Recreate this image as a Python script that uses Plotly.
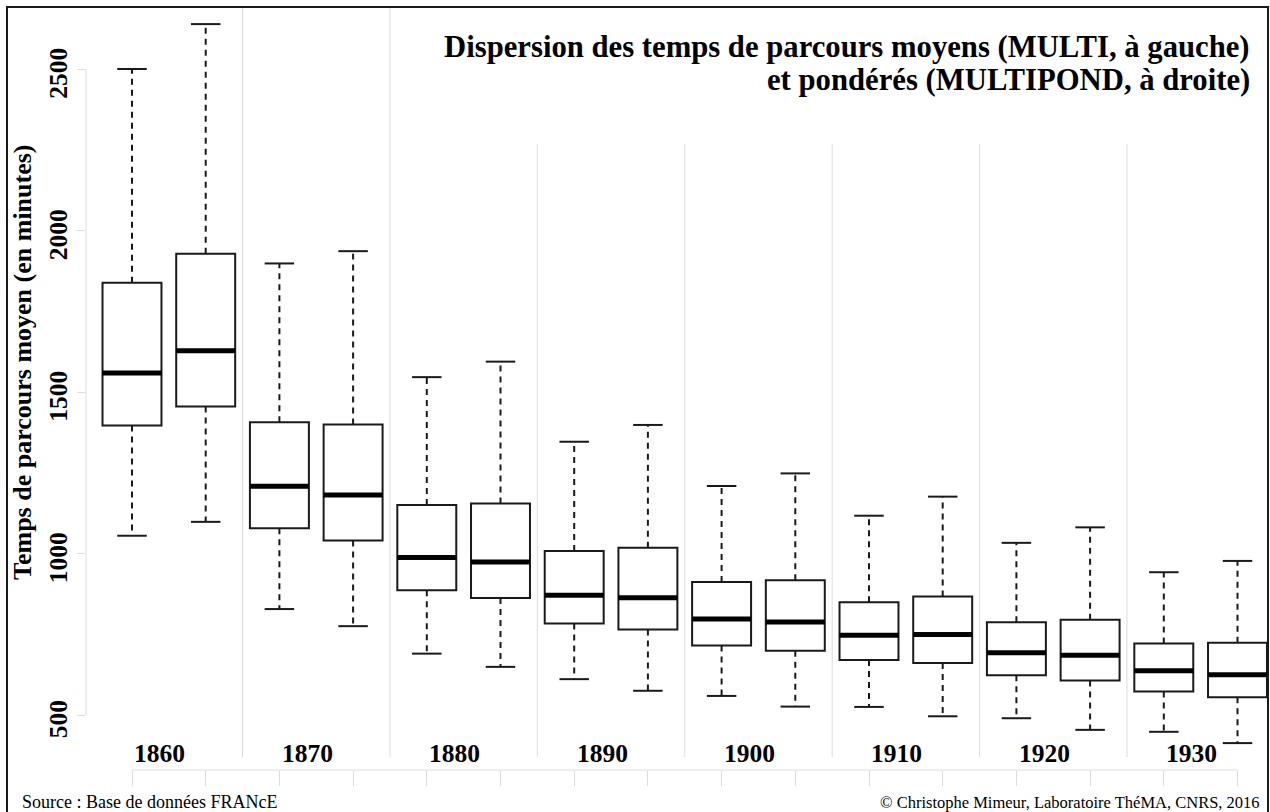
import plotly.graph_objects as go

# Decades, two boxes per decade: MULTI (left) and MULTIPOND (right)
decades = ["1860", "1870", "1880", "1890", "1900", "1910", "1920", "1930"]
series = ["MULTI", "MULTIPOND"]

# Five-number summaries (minutes), box order: 1860 MULTI, 1860 MULTIPOND, 1870 MULTI, ...
upper_whisker = [2500, 2639, 1898, 1936, 1546, 1594, 1346, 1398, 1209, 1248, 1117, 1176, 1033, 1081, 942, 977]
q3 = [1838, 1928, 1406, 1399, 1150, 1155, 1008, 1018, 912, 917, 849, 867, 787, 795, 721, 724]
median = [1559, 1628, 1208, 1181, 988, 974, 871, 863, 797, 788, 747, 749, 693, 685, 637, 625]
q1 = [1396, 1455, 1078, 1040, 886, 862, 783, 765, 715, 699, 670, 661, 623, 607, 573, 555]
lower_whisker = [1055, 1098, 828, 775, 690, 649, 611, 575, 559, 526, 525, 496, 490, 454, 448, 413]

y_ticks = [500, 1000, 1500, 2000, 2500]

SERIF = "Liberation Serif"
AXIS_GREY = "#dcdcdc"
INK = "#1a1a1a"
BOX_W = 0.8
CAP_W = 0.4

n = len(median)
pos = list(range(n))
labels = [f"{d} {s}" for d in decades for s in series]

fig = go.Figure()

# Whiskers (dashed) from box edges to the extremes
wx, wy = [], []
for i in pos:
    wx += [i, i, None, i, i, None]
    wy += [q3[i], upper_whisker[i], None, q1[i], lower_whisker[i], None]
fig.add_trace(go.Scatter(x=wx, y=wy, mode="lines", hoverinfo="skip",
                         line=dict(color=INK, width=2, dash="6px,5px")))

# Whisker caps
cx, cy = [], []
for i in pos:
    cx += [i - CAP_W / 2, i + CAP_W / 2, None, i - CAP_W / 2, i + CAP_W / 2, None]
    cy += [upper_whisker[i], upper_whisker[i], None, lower_whisker[i], lower_whisker[i], None]
fig.add_trace(go.Scatter(x=cx, y=cy, mode="lines", hoverinfo="skip",
                         line=dict(color=INK, width=2)))

# Interquartile boxes
fig.add_trace(go.Bar(x=pos, y=[a - b for a, b in zip(q3, q1)], base=q1, width=BOX_W,
                     customdata=labels, hovertemplate="%{customdata}<extra></extra>",
                     marker=dict(color="white", line=dict(color=INK, width=2))))

# Medians
mx, my = [], []
for i in pos:
    mx += [i - BOX_W / 2, i + BOX_W / 2, None]
    my += [median[i], median[i], None]
fig.add_trace(go.Scatter(x=mx, y=my, mode="lines", hoverinfo="skip",
                         line=dict(color="black", width=5)))

# Pixel layout helpers
W, H = 1270, 812
L, R, T, B = 86, 2, 7, 42
pw, ph = W - L - R, H - T - B


def px(xp):
    return (xp - L) / pw


def py(yp):
    return (H - B - yp) / ph


shapes = []
# y axis line spanning the tick range
shapes.append(dict(type="line", xref="paper", yref="y", x0=0, x1=0,
                   y0=y_ticks[0], y1=y_ticks[-1], line=dict(color=AXIS_GREY, width=1)))
# x axis line spanning first to last box
shapes.append(dict(type="line", xref="x", yref="paper", x0=pos[0], x1=pos[-1],
                   y0=0, y1=0, line=dict(color=AXIS_GREY, width=1)))
# decade separators
for k in range(len(decades) - 1):
    xs = 2 * k + 1.5
    top = 1 if k < 2 else py(144)
    shapes.append(dict(type="line", xref="x", yref="paper", x0=xs, x1=xs,
                       y0=py(757), y1=top, line=dict(color=AXIS_GREY, width=1)))
# outer frame
shapes.append(dict(type="rect", xref="paper", yref="paper", x0=px(7), x1=px(1268),
                   y0=py(816), y1=py(7), line=dict(color=INK, width=2), layer="above"))

annotations = []
label_shift = -9 / 73.7
for k, d in enumerate(decades):
    annotations.append(dict(x=2 * k + 0.5 + label_shift, y=py(753), xref="x", yref="paper", text=d,
                            showarrow=False, xanchor="center", yanchor="middle",
                            font=dict(family=SERIF, size=25.5, color="black", weight="bold")))
annotations.append(dict(x=px(1252), y=py(47), xref="paper", yref="paper",
                        text="Dispersion des temps de parcours moyens (MULTI, à gauche)",
                        showarrow=False, xanchor="right", yanchor="middle",
                        font=dict(family=SERIF, size=30.7, color="black", weight="bold")))
annotations.append(dict(x=px(1252), y=py(80), xref="paper", yref="paper",
                        text="et pondérés (MULTIPOND, à droite)",
                        showarrow=False, xanchor="right", yanchor="middle",
                        font=dict(family=SERIF, size=30.7, color="black", weight="bold")))
annotations.append(dict(x=px(22), y=py(362), xref="paper", yref="paper",
                        text="Temps de parcours moyen (en minutes)", textangle=-90,
                        showarrow=False, xanchor="center", yanchor="middle",
                        font=dict(family=SERIF, size=26, color="black", weight="bold")))
annotations.append(dict(x=px(20), y=py(802), xref="paper", yref="paper",
                        text="Source : Base de données FRANcE",
                        showarrow=False, xanchor="left", yanchor="middle",
                        font=dict(family=SERIF, size=18, color="black")))
annotations.append(dict(x=px(1262), y=py(802), xref="paper", yref="paper",
                        text="© Christophe Mimeur, Laboratoire ThéMA, CNRS, 2016",
                        showarrow=False, xanchor="right", yanchor="middle",
                        font=dict(family=SERIF, size=16.5, color="black")))

y_lo = 500 - (770 - 715) / 0.323
y_hi = 500 + (715 - 7) / 0.323
x_lo = (L - 132) / 73.7
x_hi = (W - R - 132) / 73.7

fig.update_layout(
    width=W, height=H,
    margin=dict(l=L, r=R, t=T, b=B),
    plot_bgcolor="white", paper_bgcolor="white",
    showlegend=False,
    shapes=shapes,
    annotations=annotations,
    xaxis=dict(range=[x_lo, x_hi], tickvals=pos, ticks="outside", ticklen=15,
               tickcolor=AXIS_GREY, tickwidth=1, showticklabels=False,
               showgrid=False, zeroline=False, showline=False, fixedrange=True),
    yaxis=dict(range=[y_lo, y_hi], tickvals=y_ticks, ticktext=[str(v) for v in y_ticks],
               ticks="outside", ticklen=8, tickcolor=AXIS_GREY, tickwidth=1,
               tickangle=-90, ticklabelshift=8,
               tickfont=dict(family=SERIF, size=25.5, color="black", weight="bold"),
               showgrid=False, zeroline=False, showline=False, fixedrange=True),
)

fig.write_html("out.html")
